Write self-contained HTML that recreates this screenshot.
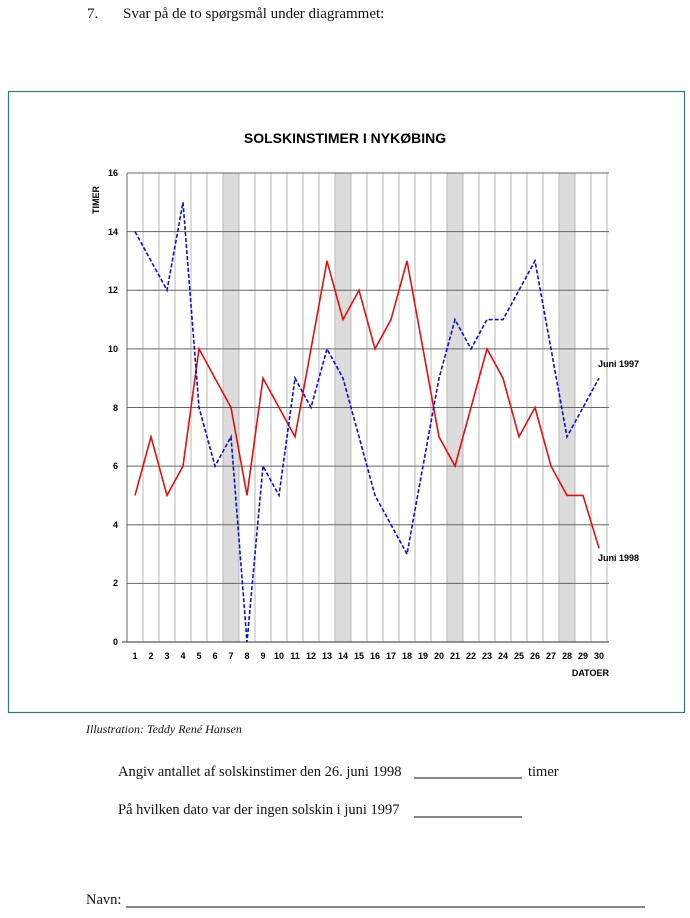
<!DOCTYPE html>
<html><head><meta charset="utf-8"><style>
body{margin:0;background:#fff;width:690px;height:918px;overflow:hidden;position:relative;font-family:"Liberation Serif",serif;}
.t{position:absolute;white-space:nowrap;color:#111;}
</style></head><body>
<div class="t" style="left:87px;top:6px;font-size:15px;">7.</div>
<div class="t" style="left:123px;top:6px;font-size:15px;">Svar på de to spørgsmål under diagrammet:</div>
<svg style="position:absolute;left:0;top:0" width="690" height="918" font-family="Liberation Sans, Arial, sans-serif">
<rect x="8.5" y="91.5" width="676" height="621" fill="none" stroke="#2f7a72" stroke-width="1.2"/>
<text x="345" y="143" text-anchor="middle" font-size="14" font-weight="bold">SOLSKINSTIMER I NYKØBING</text>
<text transform="translate(99,214) rotate(-90)" font-size="9" font-weight="bold">TIMER</text>
<g fill="#dcdcdc"><rect x="223" y="173" width="16" height="469"/><rect x="335" y="173" width="16" height="469"/><rect x="447" y="173" width="16" height="469"/><rect x="559" y="173" width="16" height="469"/></g>
<g stroke="#b8b8b8" stroke-width="1" id="v"></g>
<g stroke="#666" stroke-width="1">
<line x1="127" y1="173" x2="609" y2="173"/><line x1="127" y1="231.6" x2="609" y2="231.6"/><line x1="127" y1="290.2" x2="609" y2="290.2"/><line x1="127" y1="348.9" x2="609" y2="348.9"/><line x1="127" y1="407.5" x2="609" y2="407.5"/><line x1="127" y1="466.1" x2="609" y2="466.1"/><line x1="127" y1="524.7" x2="609" y2="524.7"/><line x1="127" y1="583.4" x2="609" y2="583.4"/><line x1="122" y1="642" x2="609" y2="642" stroke="#333"/>
<line x1="127" y1="173" x2="127" y2="642"/>
</g>
<g font-size="9" font-weight="bold" text-anchor="end">
<text x="118" y="176">16</text><text x="118" y="235">14</text><text x="118" y="293">12</text><text x="118" y="352">10</text><text x="118" y="411">8</text><text x="118" y="469">6</text><text x="118" y="528">4</text><text x="118" y="586">2</text><text x="118" y="645">0</text>
</g>
<g font-size="9" font-weight="bold" text-anchor="middle" id="d"></g>
<text x="609" y="676" text-anchor="end" font-size="9" font-weight="bold">DATOER</text>
<polyline fill="none" stroke="#e01010" stroke-width="1.6" points="135,495.4 151,436.8 167,495.4 183,466.1 199,348.9 215,378.2 231,407.5 247,495.4 263,378.2 279,407.5 295,436.8 311,348.9 327,260.9 343,319.6 359,290.2 375,348.9 391,319.6 407,260.9 423,348.9 439,436.8 455,466.1 471,407.5 487,348.9 503,378.2 519,436.8 535,407.5 551,466.1 567,495.4 583,495.4 599,548.2"/>
<polyline fill="none" stroke="#1010c0" stroke-width="1.6" stroke-dasharray="4,2" points="135,231.6 151,260.9 167,290.2 183,202.3 199,407.5 215,466.1 231,436.8 247,642 263,466.1 279,495.4 295,378.2 311,407.5 327,348.9 343,378.2 359,436.8 375,495.4 391,524.7 407,554.1 423,466.1 439,378.2 455,319.6 471,348.9 487,319.6 503,319.6 519,290.2 535,260.9 551,348.9 567,436.8 583,407.5 599,378.2"/>
<text x="598" y="367" font-size="9" font-weight="bold">Juni 1997</text>
<text x="598" y="561" font-size="9" font-weight="bold">Juni 1998</text>
<line x1="414" y1="778" x2="522" y2="778" stroke="#111"/>
<line x1="414" y1="817" x2="522" y2="817" stroke="#111"/>
<line x1="126" y1="907" x2="645" y2="907" stroke="#111"/>
</svg>
<div class="t" style="left:86px;top:722px;font-size:12px;font-style:italic;">Illustration: Teddy René Hansen</div>
<div class="t" style="left:118px;top:764px;font-size:14.5px;">Angiv antallet af solskinstimer den 26. juni 1998</div>
<div class="t" style="left:528px;top:764px;font-size:14.5px;">timer</div>
<div class="t" style="left:118px;top:802px;font-size:14.5px;">På hvilken dato var der ingen solskin i juni 1997</div>
<div class="t" style="left:86px;top:892px;font-size:14.5px;">Navn:</div>
<script>
var v=document.getElementById('v'),d=document.getElementById('d'),s='';
for(var j=1;j<=30;j++){s+='<line x1="'+(127+16*j)+'" y1="173" x2="'+(127+16*j)+'" y2="642"/>';}
v.innerHTML=s;s='';
for(var k=1;k<=30;k++){s+='<text x="'+(119+16*k)+'" y="659">'+k+'</text>';}
d.innerHTML=s;
</script>
</body></html>
